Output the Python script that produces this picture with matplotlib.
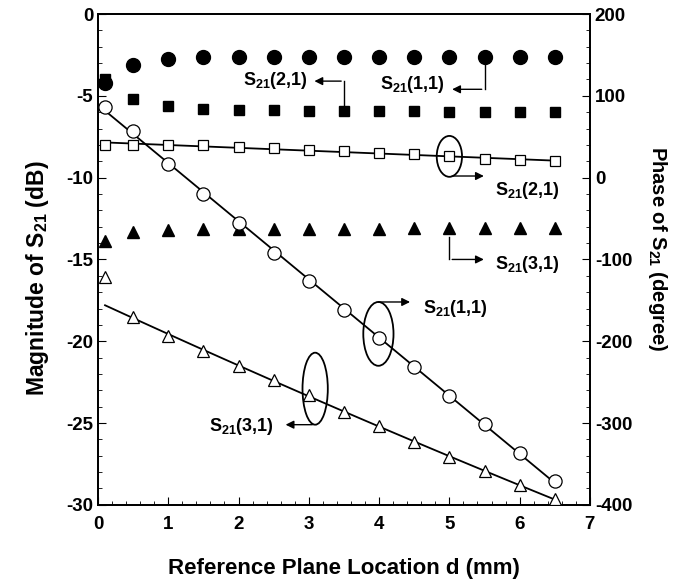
import matplotlib
matplotlib.use('Agg')
import matplotlib.pyplot as plt
from matplotlib.patches import Ellipse
from matplotlib.ticker import MultipleLocator
import numpy as np

plt.rcParams['font.family'] = 'Liberation Sans'
plt.rcParams['font.weight'] = 'bold'
plt.rcParams['axes.unicode_minus'] = False
plt.rcParams['mathtext.fontset'] = 'custom'
plt.rcParams['mathtext.rm'] = 'Liberation Sans:bold'
plt.rcParams['mathtext.it'] = 'Liberation Sans:bold'
plt.rcParams['mathtext.bf'] = 'Liberation Sans:bold'

# reference plane location (mm)
d = [0.1, 0.5, 1.0, 1.5, 2.0, 2.5, 3.0, 3.5, 4.0, 4.5, 5.0, 5.5, 6.0, 6.5]

# magnitude (dB), filled markers
mag_11 = [-4.2, -3.1, -2.75, -2.65, -2.65, -2.65, -2.65, -2.65, -2.65, -2.65, -2.65, -2.65, -2.65, -2.65]
mag_21 = [-4.0, -5.2, -5.6, -5.8, -5.85, -5.85, -5.9, -5.9, -5.95, -5.95, -6.0, -6.0, -6.0, -6.0]
mag_31 = [-13.9, -13.3, -13.2, -13.15, -13.15, -13.15, -13.15, -13.15, -13.15, -13.1, -13.1, -13.1, -13.1, -13.1]

# phase (degree), open markers
ph_11 = [86, 57, 17, -20, -55, -92, -126, -162, -196, -231, -267, -301, -336, -371]
ph_21 = [40, 40, 40, 40, 38, 36, 34, 32, 30, 29, 26, 23, 21, 20]
ph_31 = [-121, -170, -193, -212, -230, -247, -266, -286, -304, -323, -341, -359, -376, -393]

fig = plt.figure(figsize=(6.82, 5.85), dpi=100)
ax = fig.add_axes([0.1437, 0.137, 0.7213, 0.839])
ax2 = ax.twinx()

ax.plot(d, mag_21, 's', color='black', ms=7.5, zorder=3)
ax.plot(d, mag_11, 'o', color='black', ms=10, zorder=3)
ax.plot(d, mag_31, '^', color='black', ms=9, zorder=3)

ax2.plot(d, ph_11, 'o', mfc='white', mec='black', mew=0.9, ms=9.5, zorder=3)
ax2.plot(d, ph_21, 's', mfc='white', mec='black', mew=0.9, ms=7, zorder=3)
ax2.plot(d, ph_31, '^', mfc='white', mec='black', mew=0.9, ms=9, zorder=3)

# fitted lines through the phase data
xx = np.linspace(d[0], d[-1], 100)
ax2.plot(xx, np.polyval(np.polyfit(d, ph_11, 1), xx), color='black', lw=1.3, zorder=2)
ax2.plot(xx, np.polyval(np.polyfit(d, ph_21, 1), xx), color='black', lw=1.3, zorder=2)
ax2.plot(xx, np.polyval(np.polyfit(d[1:], ph_31[1:], 2), xx), color='black', lw=1.3, zorder=2)

ax.set_xlim(0, 7)
ax.set_ylim(-30, 0)
ax2.set_ylim(-400, 200)

ax.xaxis.set_major_locator(MultipleLocator(1))
ax.xaxis.set_minor_locator(MultipleLocator(0.2))
ax.yaxis.set_major_locator(MultipleLocator(5))
ax.yaxis.set_minor_locator(MultipleLocator(1))
ax2.yaxis.set_major_locator(MultipleLocator(100))
ax2.yaxis.set_minor_locator(MultipleLocator(20))

ax.tick_params(which='both', direction='in', labelsize=13.5)
ax.tick_params(axis='x', which='both', top=False, pad=8)
ax.tick_params(which='major', length=6)
ax.tick_params(which='minor', length=3)
ax2.tick_params(which='both', direction='in', labelsize=13.5)
ax2.tick_params(which='major', length=6)
ax2.tick_params(which='minor', length=3)
for a in (ax, ax2):
    for lab in a.get_xticklabels() + a.get_yticklabels():
        lab.set_fontweight('bold')
    for sp in a.spines.values():
        sp.set_linewidth(1.3)

ax.set_xlabel('Reference Plane Location d (mm)', fontsize=16, fontweight='bold')
ax.xaxis.set_label_coords(0.5, -0.108)
ax.set_ylabel('Magnitude of S$_{21}$ (dB)', fontsize=16.5, fontweight='bold')
ax.yaxis.set_label_coords(-0.095, 0.462)
ax2.set_ylabel('Phase of S$_{21}$ (degree)', fontsize=14.5, fontweight='bold', rotation=-90)
ax2.yaxis.set_label_coords(1.16, 0.521)

arrow = dict(arrowstyle='-|>', color='black', lw=1.0, mutation_scale=12)
fs = 13

# brackets for magnitude curves
ax.plot([3.5, 3.5], [-5.55, -4.1], color='black', lw=1.0)
ax.annotate('', xy=(3.04, -4.1), xytext=(3.5, -4.1), arrowprops=arrow)
ax.text(2.99, -4.05, 'S$_{21}$(2,1)', ha='right', va='center', fontsize=fs)

ax.plot([5.5, 5.5], [-3.1, -4.6], color='black', lw=1.0)
ax.annotate('', xy=(5.0, -4.6), xytext=(5.5, -4.6), arrowprops=arrow)
ax.text(4.93, -4.3, 'S$_{21}$(1,1)', ha='right', va='center', fontsize=fs)

ax.plot([5.0, 5.0], [-13.6, -15.0], color='black', lw=1.0)
ax.annotate('', xy=(5.53, -15.0), xytext=(5.0, -15.0), arrowprops=arrow)
ax.text(5.65, -15.3, 'S$_{21}$(3,1)', ha='left', va='center', fontsize=fs)

# ellipses for phase curves
ax2.add_patch(Ellipse((5.0, 26), 0.36, 50, fill=False, ec='black', lw=1.3))
ax2.annotate('', xy=(5.53, 2), xytext=(5.0, 2), arrowprops=arrow)
ax2.text(5.65, -16, 'S$_{21}$(2,1)', ha='left', va='center', fontsize=fs)

ax2.add_patch(Ellipse((3.99, -191), 0.43, 78, fill=False, ec='black', lw=1.3))
ax2.annotate('', xy=(4.48, -152), xytext=(3.95, -152), arrowprops=arrow)
ax2.text(4.62, -160, 'S$_{21}$(1,1)', ha='left', va='center', fontsize=fs)

ax2.add_patch(Ellipse((3.09, -258), 0.36, 88, fill=False, ec='black', lw=1.3))
ax2.annotate('', xy=(2.63, -302), xytext=(3.09, -302), arrowprops=arrow)
ax2.text(2.5, -304, 'S$_{21}$(3,1)', ha='right', va='center', fontsize=fs)

fig.savefig('out.png', dpi=100)
